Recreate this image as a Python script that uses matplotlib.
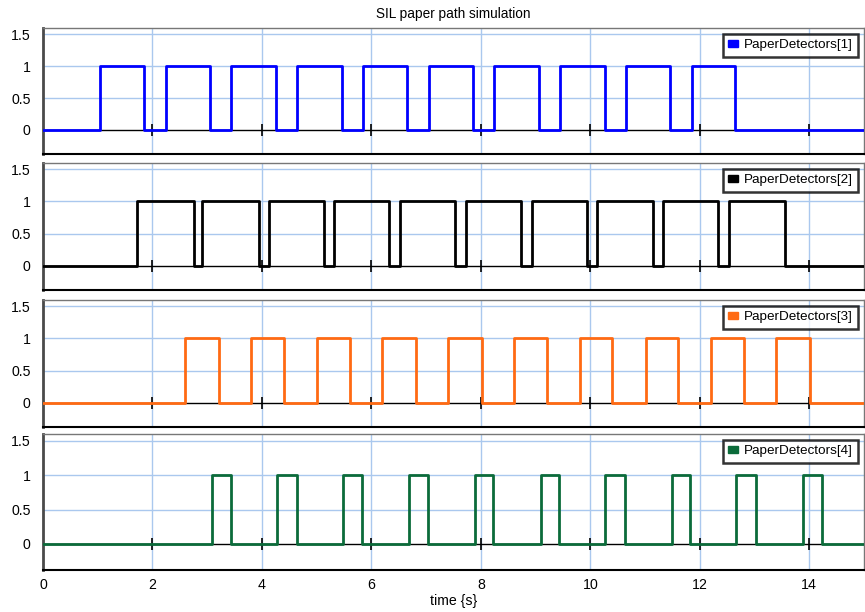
import numpy as np
import matplotlib
matplotlib.use("Agg")
import matplotlib.pyplot as plt
from matplotlib.patches import Patch

plt.rcParams['font.family'] = ['Liberation Sans', 'DejaVu Sans']

T_END = 15.0

# Switching instants (s) of each paper detector: rising / falling edges
det1_rise = [1.04, 2.24, 3.44, 4.64, 5.85, 7.05, 8.24, 9.45, 10.65, 11.85]
det1_fall = [1.85, 3.06, 4.25, 5.46, 6.65, 7.86, 9.06, 10.27, 11.46, 12.65]

det2_rise = [1.72, 2.91, 4.12, 5.32, 6.53, 7.72, 8.93, 10.12, 11.33, 12.53]
det2_fall = [2.75, 3.94, 5.14, 6.33, 7.53, 8.74, 9.93, 11.15, 12.34, 13.55]

det3_rise = [2.60, 3.80, 5.00, 6.20, 7.40, 8.61, 9.81, 11.02, 12.20, 13.40]
det3_fall = [3.21, 4.40, 5.61, 6.81, 8.02, 9.20, 10.40, 11.61, 12.80, 14.01]

det4_rise = [3.09, 4.28, 5.49, 6.69, 7.89, 9.09, 10.27, 11.49, 12.67, 13.89]
det4_fall = [3.43, 4.64, 5.83, 7.04, 8.23, 9.42, 10.63, 11.82, 13.03, 14.23]

labels = ["PaperDetectors[1]", "PaperDetectors[2]",
          "PaperDetectors[3]", "PaperDetectors[4]"]
colors = ["#0000ff", "#000000", "#ff6a13", "#0b6b3a"]
series = [(det1_rise, det1_fall), (det2_rise, det2_fall),
          (det3_rise, det3_fall), (det4_rise, det4_fall)]

x_ticks = [0, 2, 4, 6, 8, 10, 12, 14]
y_ticks = [0, 0.5, 1, 1.5]
y_tick_labels = ["0", "0.5", "1", "1.5"]
YLIM = (-0.38, 1.6)

W, H = 865, 612
fig = plt.figure(figsize=(W / 100, H / 100), dpi=100)

# panel extents in pixels (top, bottom)
panels_px = [(28, 154), (163, 290), (300, 427), (434, 570)]
left_px, right_px = 43, 864

grid_col = "#aac8ee"
FS = 10.2

for i, ((top, bot), (rise, fall)) in enumerate(zip(panels_px, series)):
    ax = fig.add_axes([left_px / W, 1 - bot / H,
                       (right_px - left_px) / W, (bot - top) / H])
    edges = [0.0]
    levels = [0]
    for r, f in zip(rise, fall):
        edges += [r, f]
        levels += [1, 0]
    edges.append(T_END)
    levels.append(0)
    ax.step(edges, levels, where='post', color=colors[i], lw=2.0, zorder=4)

    ax.set_xlim(0, T_END)
    ax.set_ylim(*YLIM)
    ax.set_xticks(x_ticks)
    ax.set_yticks(y_ticks)
    ax.set_yticklabels(y_tick_labels)
    ax.tick_params(axis='y', length=0, pad=9, labelsize=FS)
    ax.tick_params(axis='x', length=0, pad=6, labelsize=FS)
    if i < 3:
        ax.tick_params(axis='x', labelbottom=False)

    # grid: vertical at x ticks, horizontal at 0.5 / 1 / 1.5
    for xv in x_ticks[1:]:
        ax.axvline(xv, color=grid_col, lw=1.0, zorder=1)
    for yv in y_ticks[1:]:
        ax.axhline(yv, color=grid_col, lw=1.0, zorder=1)

    # zero line with tick marks
    frac0 = (0 - YLIM[0]) / (YLIM[1] - YLIM[0])
    sec = ax.secondary_xaxis(frac0)
    sec.set_zorder(2)
    sec.set_xticks(x_ticks[1:])
    sec.tick_params(axis='x', direction='inout', length=8, width=1.2,
                    labelbottom=False, color='black')
    sec.spines['bottom'].set_color('black')
    sec.spines['bottom'].set_linewidth(1.0)

    ax.spines['left'].set_color('#4a4a4a')
    ax.spines['left'].set_linewidth(2.0)
    ax.spines['top'].set_color('#777777')
    ax.spines['top'].set_linewidth(1.0)
    ax.spines['right'].set_color('#777777')
    ax.spines['right'].set_linewidth(1.0)
    ax.spines['bottom'].set_color('black')
    ax.spines['bottom'].set_linewidth(1.5)

    handle = Patch(facecolor=colors[i], edgecolor=colors[i])
    leg = ax.legend([handle], [labels[i]], loc='upper right',
                    fontsize=9.7, frameon=True, fancybox=False,
                    handlelength=0.75, handleheight=0.45, handletextpad=0.4,
                    borderpad=0.4, borderaxespad=0.45)
    leg.get_frame().set_edgecolor('black')
    leg.get_frame().set_linewidth(1.8)
    leg.set_zorder(10)

    if i == 0:
        ax.set_title("SIL paper path simulation", fontsize=9.8, pad=7)
    if i == 3:
        ax.set_xlabel("time {s}", fontsize=FS, labelpad=1)

fig.savefig("out.png", dpi=100)
